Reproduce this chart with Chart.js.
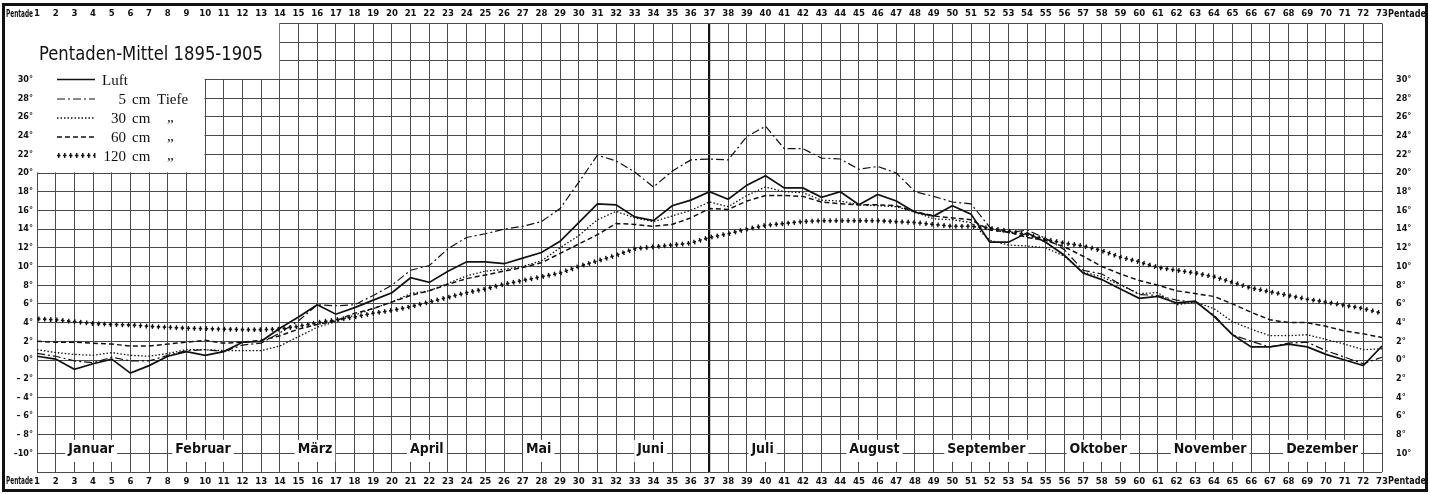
<!DOCTYPE html>
<html>
<head>
<meta charset="utf-8">
<title>Pentaden-Mittel 1895-1905</title>
<script src="https://cdn.jsdelivr.net/npm/chart.js@4/dist/chart.umd.min.js"></script>
<style>
  html, body { margin: 0; padding: 0; background: #fff; }
  canvas { display: block; }
</style>
</head>
<body>
<canvas id="chart" width="1430" height="494"></canvas>
<script>
// Pentaden 1..73
const pentaden = [
  1, 2, 3, 4, 5, 6, 7, 8, 9, 10, 11, 12, 13, 14, 15, 16, 17, 18, 19, 20,
  21, 22, 23, 24, 25, 26, 27, 28, 29, 30, 31, 32, 33, 34, 35, 36, 37, 38, 39, 40,
  41, 42, 43, 44, 45, 46, 47, 48, 49, 50, 51, 52, 53, 54, 55, 56, 57, 58, 59, 60,
  61, 62, 63, 64, 65, 66, 67, 68, 69, 70, 71, 72, 73
];

const monate = ['Januar', 'Februar', 'März', 'April', 'Mai', 'Juni', 'Juli',
  'August', 'September', 'Oktober', 'November', 'Dezember'];

// Temperaturen in °C
const luft = [
  0.4, 0.1, -1.0, -0.4, 0.1, -1.4, -0.6, 0.4, 0.9, 0.5,
  0.9, 1.9, 2.0, 3.4, 4.6, 5.9, 4.9, 5.6, 6.4, 7.2,
  8.8, 8.3, 9.5, 10.5, 10.5, 10.3, 10.9, 11.5, 12.7, 14.7,
  16.7, 16.6, 15.3, 14.9, 16.5, 17.1, 18.0, 17.2, 18.7, 19.7,
  18.4, 18.4, 17.4, 18.0, 16.6, 17.7, 17.0, 15.8, 15.4, 16.5,
  15.6, 12.6, 12.6, 13.6, 12.6, 11.2, 9.3, 8.6, 7.6, 6.6,
  6.8, 6.1, 6.3, 4.7, 2.7, 1.4, 1.4, 1.7, 1.4, 0.6,
  0.0, -0.6, 1.5
];
const tiefe5 = [
  0.7, 0.4, -0.1, -0.3, 0.3, -0.1, -0.1, 0.5, 1.0, 1.1,
  0.9, 1.6, 1.8, 2.9, 4.2, 5.9, 5.8, 5.9, 6.9, 8.0,
  9.6, 10.1, 11.9, 13.1, 13.5, 14.0, 14.3, 14.8, 16.2, 19.0,
  21.9, 21.3, 20.1, 18.5, 20.2, 21.4, 21.5, 21.4, 23.9, 25.0,
  22.6, 22.6, 21.6, 21.5, 20.4, 20.7, 20.0, 18.0, 17.5, 16.9,
  16.7, 14.2, 13.6, 13.9, 13.0, 11.8, 9.6, 9.2, 8.1, 7.0,
  6.9, 6.4, 6.2, 4.8, 2.7, 2.0, 1.4, 1.8, 1.9, 1.0,
  0.3, -0.4, 0.3
];
const tiefe30 = [
  1.1, 0.8, 0.6, 0.5, 0.8, 0.5, 0.4, 0.7, 1.1, 1.1,
  1.0, 1.0, 1.0, 1.5, 2.5, 3.5, 4.1, 4.8, 5.5, 6.2,
  7.1, 7.4, 8.2, 9.0, 9.5, 9.7, 10.0, 10.6, 12.0, 13.3,
  15.0, 15.9, 15.2, 14.8, 15.4, 16.0, 16.9, 16.4, 17.6, 18.5,
  18.0, 17.9, 17.1, 17.0, 16.6, 16.5, 16.4, 15.8, 15.1, 15.0,
  14.7, 12.8, 12.3, 12.2, 12.0, 11.1, 9.4, 8.9, 8.0, 7.1,
  7.2, 5.9, 6.2, 5.5, 4.1, 3.3, 2.6, 2.6, 2.7, 2.2,
  1.7, 1.1, 1.2
];
const tiefe60 = [
  2.0, 1.9, 1.9, 1.8, 1.7, 1.5, 1.5, 1.7, 1.9, 2.1,
  1.8, 1.9, 2.1, 2.6, 3.3, 3.8, 4.2, 5.0, 5.5, 6.2,
  6.9, 7.4, 8.1, 8.7, 9.1, 9.5, 9.9, 10.4, 11.4, 12.4,
  13.4, 14.6, 14.5, 14.3, 14.5, 15.2, 16.2, 16.1, 17.0, 17.6,
  17.6, 17.5, 16.9, 16.7, 16.6, 16.6, 16.5, 15.9, 15.4, 15.2,
  15.0, 13.9, 13.7, 13.1, 12.8, 12.1, 11.1, 10.0, 9.2, 8.5,
  8.0, 7.4, 7.1, 6.8, 6.0, 5.1, 4.3, 4.0, 4.0, 3.6,
  3.1, 2.8, 2.4
];
const tiefe120 = [
  4.4, 4.3, 4.1, 3.9, 3.8, 3.75, 3.6, 3.5, 3.4, 3.35,
  3.3, 3.25, 3.25, 3.3, 3.6, 4.0, 4.3, 4.6, 5.0, 5.3,
  5.7, 6.2, 6.7, 7.2, 7.6, 8.1, 8.5, 8.9, 9.3, 10.0,
  10.6, 11.2, 11.9, 12.1, 12.3, 12.5, 13.1, 13.5, 14.0, 14.4,
  14.6, 14.8, 14.9, 14.9, 14.9, 14.9, 14.8, 14.7, 14.5, 14.3,
  14.3, 14.1, 13.8, 13.4, 12.9, 12.5, 12.2, 11.7, 11.0, 10.5,
  9.9, 9.6, 9.3, 8.9, 8.3, 7.7, 7.3, 6.9, 6.5, 6.2,
  5.85, 5.5, 5.0
];

const INK = '#111';
const condensed = '"DejaVu Sans Condensed", "DejaVu Sans", sans-serif';

function punkte(werte) {
  return werte.map((v, i) => ({ x: pentaden[i], y: v }));
}

// Legende: Strichmuster wie im Original
const legende = [
  { zahl: '', text: 'Luft', dash: [], width: 1.7 },
  { zahl: '5', text: 'cm', extra: 'Tiefe', dash: [8, 3, 2, 3], width: 1.2 },
  { zahl: '30', text: 'cm', extra: '„', dash: [1.5, 2], width: 1.3 },
  { zahl: '60', text: 'cm', extra: '„', dash: [5, 3], width: 1.5 },
  { zahl: '120', text: 'cm', extra: '„', dash: [3.5, 2.5], width: 1.6, kreuz: true }
];

function kreuzeEntlang(ctx, pts, start, schritt, halb) {
  let next = start, run = 0;
  for (let i = 1; i < pts.length; i++) {
    const x0 = pts[i - 1].x, y0 = pts[i - 1].y;
    const dx = pts[i].x - x0, dy = pts[i].y - y0;
    const len = Math.hypot(dx, dy);
    if (!len) continue;
    while (next <= run + len) {
      const t = (next - run) / len;
      const px = x0 + dx * t, py = y0 + dy * t;
      const nx = -dy / len * halb, ny = dx / len * halb;
      ctx.beginPath();
      ctx.moveTo(px + nx, py + ny);
      ctx.lineTo(px - nx, py - ny);
      ctx.stroke();
      next += schritt;
    }
    run += len;
  }
}

const papier = {
  id: 'papier',
  beforeDatasetsDraw(chart) {
    const { ctx, chartArea: a, scales: { x, y } } = chart;
    ctx.save();
    // Ecke oben links ohne Netz (Titel und Legende)
    ctx.fillStyle = '#fff';
    const x14 = x.getPixelForValue(14) - 0.6, y30 = y.getPixelForValue(30) - 0.6;
    const x10 = x.getPixelForValue(10) - 0.6, y20 = y.getPixelForValue(20) - 0.6;
    ctx.fillRect(a.left - 2, a.top - 2, x14 - a.left + 2, y30 - a.top + 2);
    ctx.fillRect(a.left - 2, a.top - 2, x10 - a.left + 2, y20 - a.top + 2);

    // Monatsnamen
    ctx.font = 'bold 14px ' + condensed;
    ctx.textAlign = 'center';
    ctx.textBaseline = 'middle';
    monate.forEach((m, i) => {
      const cx = x.getPixelForValue(3.9 + i * 5.99);
      const cy = y.getPixelForValue(-9.4);
      const w = ctx.measureText(m).width + 6;
      ctx.fillStyle = '#fff';
      ctx.fillRect(cx - w / 2, cy - 8, w, 22);
      ctx.fillStyle = INK;
      ctx.fillText(m, cx, cy + 1);
    });
    ctx.restore();
  },
  afterDatasetsDraw(chart) {
    // 120 cm: Kreuzchen entlang der Linie
    const ctx = chart.ctx;
    const meta = chart.getDatasetMeta(4);
    ctx.save();
    ctx.beginPath();
    ctx.rect(chart.chartArea.left, chart.chartArea.top, chart.chartArea.width, chart.chartArea.height);
    ctx.clip();
    ctx.strokeStyle = INK;
    ctx.lineWidth = 1.4;
    kreuzeEntlang(ctx, meta.data.map(p => ({ x: p.x, y: p.y })), 1.75, 6, 2.4);
    ctx.restore();
  },
  afterDraw(chart) {
    const ctx = chart.ctx;
    ctx.save();
    ctx.fillStyle = INK;
    ctx.strokeStyle = INK;

    // Rahmen
    ctx.lineWidth = 3;
    ctx.strokeRect(3.5, 4.5, 1423, 486);

    // "Pentade" an den Enden der Zahlenreihen
    ctx.font = 'bold 10px ' + condensed;
    ctx.textBaseline = 'middle';
    ctx.textAlign = 'left';
    ctx.fillText('Pentade', 6, 14.5, 27);
    ctx.fillText('Pentade', 6, 481, 27);
    ctx.fillText('Pentade', 1388, 14.5, 38);
    ctx.fillText('Pentade', 1388, 481, 38);

    // Titel
    ctx.textBaseline = 'alphabetic';
    ctx.font = '19.5px ' + condensed;
    ctx.fillText('Pentaden-Mittel 1895-1905', 39, 60, 224);

    // Legende
    const zeilen = [79.5, 99, 118, 137, 155.5];
    legende.forEach((l, i) => {
      const ly = zeilen[i];
      ctx.lineWidth = l.width;
      ctx.setLineDash(l.dash);
      ctx.beginPath();
      ctx.moveTo(57, ly);
      ctx.lineTo(95, ly);
      ctx.stroke();
      ctx.setLineDash([]);
      if (l.kreuz) {
        ctx.lineWidth = 1.4;
        kreuzeEntlang(ctx, [{ x: 57, y: ly }, { x: 95, y: ly }], 1.75, 6, 2.4);
      }
      ctx.font = '15px "Liberation Serif", serif';
      if (!l.zahl) {
        ctx.textAlign = 'left';
        ctx.fillText(l.text, 102, ly + 5);
        return;
      }
      ctx.textAlign = 'right';
      ctx.fillText(l.zahl, 126, ly + 5);
      ctx.textAlign = 'left';
      ctx.fillText(l.text, 132, ly + 5);
      if (l.extra === 'Tiefe') ctx.fillText(l.extra, 157, ly + 5);
      else ctx.fillText(l.extra, 167, ly + 4);
    });
    ctx.restore();
  }
};

const tickFont = { family: condensed, size: 9.5, weight: 'bold' };

const pentadenAchse = (pos, hoehe) => ({
  type: 'linear',
  position: pos,
  min: 1,
  max: 73,
  ticks: {
    stepSize: 1,
    autoSkip: false,
    maxRotation: 0,
    padding: 4,
    color: INK,
    font: tickFont
  },
  grid: pos === 'bottom' ? {
    drawTicks: false,
    color: c => (c.tick && c.tick.value === 37) ? '#111' : '#4a4a4a',
    lineWidth: c => (c.tick && c.tick.value === 37) ? 2.2 : 1
  } : { display: false, drawTicks: false },
  border: { display: false },
  afterFit: s => { s.height = hoehe; }
});

const gradAchse = (pos, breite, label) => ({
  position: pos,
  min: -12,
  max: 36,
  ticks: {
    stepSize: 2,
    padding: pos === 'left' ? 4 : 14,
    color: INK,
    font: { family: condensed, size: 9, weight: 'bold' },
    callback: v => (v > 30 || v < -10) ? '' : label(v)
  },
  grid: pos === 'left'
    ? { drawTicks: false, color: '#4a4a4a', lineWidth: 1 }
    : { display: false, drawTicks: false },
  border: { display: false },
  afterFit: s => { s.width = breite; }
});

new Chart(document.getElementById('chart'), {
  type: 'line',
  data: {
    datasets: [
      { label: 'Luft', data: punkte(luft), borderColor: INK, borderWidth: 1.7 },
      { label: '5 cm Tiefe', data: punkte(tiefe5), borderColor: INK, borderWidth: 1.2, borderDash: [8, 3, 2, 3] },
      { label: '30 cm', data: punkte(tiefe30), borderColor: INK, borderWidth: 1.3, borderDash: [1.5, 2] },
      { label: '60 cm', data: punkte(tiefe60), borderColor: INK, borderWidth: 1.5, borderDash: [5, 3] },
      { label: '120 cm', data: punkte(tiefe120), borderColor: INK, borderWidth: 1.6, borderDash: [3.5, 2.5] }
    ]
  },
  options: {
    responsive: false,
    animation: false,
    events: [],
    layout: { padding: 0 },
    elements: {
      line: { tension: 0, fill: false },
      point: { radius: 0 }
    },
    plugins: {
      legend: { display: false },
      tooltip: { enabled: false }
    },
    scales: {
      x: pentadenAchse('bottom', 21.8),
      x2: pentadenAchse('top', 23.4),
      y: gradAchse('left', 37, v => v >= 0 ? v + '°' : (v === -10 ? '–10°' : '– ' + (-v) + '°')),
      y2: gradAchse('right', 48, v => Math.abs(v) + '°')
    }
  },
  plugins: [papier]
});
</script>
</body>
</html>
